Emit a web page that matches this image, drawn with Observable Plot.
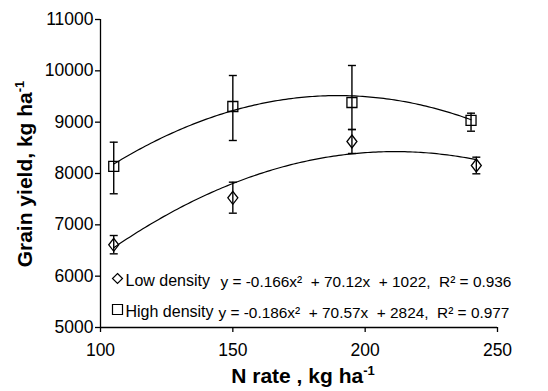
<!DOCTYPE html>
<html>
<head>
<meta charset="utf-8">
<script src="https://cdn.jsdelivr.net/npm/d3@7"></script>
<script src="https://cdn.jsdelivr.net/npm/@observablehq/plot@0.6"></script>
<style>
  html, body { margin: 0; padding: 0; background: #fff; }
  #chart { width: 548px; height: 391px; }
  svg { font-family: "Liberation Sans", Arial, sans-serif; }
</style>
</head>
<body>
<div id="chart"></div>
<script>
// ---- data ----
const nRateLow  = [105, 150, 195, 242];
const yieldLow  = [6611, 7527, 8623, 8156];
const lowErrMin = [6435, 7227, 8390, 7994];
const lowErrMax = [6792, 7831, 8857, 8318];

const nRateHigh  = [105, 150, 195, 240];
const yieldHigh  = [8137, 9305, 9383, 9033];
const highErrMin = [7605, 8643, 8857, 8824];
const highErrMax = [8610, 9909, 10104, 9175];

// trend-line equations as printed on the chart: y = a x^2 + b x + c
const lowCoef  = [-0.166, 70.12, 1022];
const highCoef = [-0.186, 70.57, 2824];
const lowFitRange  = [105, 242];
const highFitRange = [105, 240];

const xTicks = [100, 150, 200, 250];
const yTicks = [5000, 6000, 7000, 8000, 9000, 10000, 11000];

const legendLow  = "Low density";
const legendHigh = "High density";
const eqLow  = "y = -0.166x\u00B2  + 70.12x  + 1022,  R\u00B2 = 0.936";
const eqHigh = "y = -0.186x\u00B2  + 70.57x  + 2824,  R\u00B2 = 0.977";

// ---- tables ----
const low  = nRateLow.map((x, i) => ({x, y: yieldLow[i], lo: lowErrMin[i], hi: lowErrMax[i]}));
const high = nRateHigh.map((x, i) => ({x, y: yieldHigh[i], lo: highErrMin[i], hi: highErrMax[i]}));
const fit = (coef, [a, b]) => d3.range(a, b + 0.001, 1).map(x => ({x, y: coef[0]*x*x + coef[1]*x + coef[2]}));
const lowFit  = fit(lowCoef, lowFitRange);
const highFit = fit(highCoef, highFitRange);

// ---- custom symbols ----
const diamond = {draw(ctx) { ctx.moveTo(0,-6.5); ctx.lineTo(5,0); ctx.lineTo(0,6.5); ctx.lineTo(-5,0); ctx.closePath(); }};
const square  = {draw(ctx) { ctx.moveTo(-5,-5); ctx.lineTo(5,-5); ctx.lineTo(5,5); ctx.lineTo(-5,5); ctx.closePath(); }};
const diamondSmall = {draw(ctx) { ctx.moveTo(0,-5); ctx.lineTo(5,0); ctx.lineTo(0,5); ctx.lineTo(-5,0); ctx.closePath(); }};
const squareSmall  = {draw(ctx) { ctx.moveTo(-5,-5); ctx.lineTo(5,-5); ctx.lineTo(5,5); ctx.lineTo(-5,5); ctx.closePath(); }};
const cap     = {draw(ctx) { ctx.moveTo(-4,0); ctx.lineTo(4,0); }};

const errMarks = (data) => [
  Plot.ruleX(data, {x: "x", y1: "lo", y2: "hi", stroke: "black", strokeWidth: 1.4}),
  Plot.dot(data, {x: "x", y: "lo", symbol: cap, stroke: "black", strokeWidth: 1.4}),
  Plot.dot(data, {x: "x", y: "hi", symbol: cap, stroke: "black", strokeWidth: 1.4})
];

const legendText = (t, dx, dy, size) =>
  Plot.text([t], {text: d => d, frameAnchor: "top-left", dx, dy, textAnchor: "start", lineAnchor: "middle", fontSize: size, fill: "black"});

const plot = Plot.plot({
  width: 548,
  height: 391,
  marginLeft: 100,
  marginRight: 51,
  marginTop: 19,
  marginBottom: 64,
  style: {fontFamily: "'Liberation Sans', Arial, sans-serif", background: "white", color: "black"},
  x: {domain: [100, 250], ticks: xTicks, tickSize: 5, tickPadding: 11, label: null, tickFormat: d => String(d)},
  y: {domain: [5000, 11000], ticks: yTicks, tickSize: 5, tickPadding: 2, label: null, tickFormat: d => String(d)},
  marks: [
    Plot.ruleX([100], {stroke: "black", strokeWidth: 1.3}),
    Plot.ruleY([5000], {stroke: "black", strokeWidth: 1.3}),
    Plot.line(highFit, {x: "x", y: "y", stroke: "black", strokeWidth: 1.2, curve: "linear"}),
    Plot.line(lowFit,  {x: "x", y: "y", stroke: "black", strokeWidth: 1.2, curve: "linear"}),
    ...errMarks(high),
    ...errMarks(low),
    Plot.dot(high, {x: "x", y: "y", symbol: square,  stroke: "black", fill: "none", strokeWidth: 1.3}),
    Plot.dot(low,  {x: "x", y: "y", symbol: diamond, stroke: "black", fill: "none", strokeWidth: 1.3}),
    // legend
    Plot.dot([legendLow],  {frameAnchor: "top-left", dx: 17, dy: 259, symbol: diamondSmall, stroke: "black", fill: "none", strokeWidth: 1.2}),
    Plot.dot([legendHigh], {frameAnchor: "top-left", dx: 17, dy: 290, symbol: squareSmall,  stroke: "black", fill: "none", strokeWidth: 1.2}),
    legendText(legendLow,  25, 261, 16),
    legendText(legendHigh, 25, 292, 16),
    legendText(eqLow,  120, 263, 15.4),
    legendText(eqHigh, 118, 294, 15.4)
  ]
});

const svg = d3.select(plot);
svg.selectAll("[aria-label='x-axis tick label'] text, [aria-label='y-axis tick label'] text")
   .style("font-size", "17.5px").attr("fill", "black");
svg.selectAll("[aria-label='x-axis tick'], [aria-label='y-axis tick']").attr("stroke", "black").attr("stroke-width", 1.3);

// axis titles with superscripts
const xt = svg.append("text")
  .attr("x", 303).attr("y", 383)
  .attr("text-anchor", "middle")
  .style("font-size", "21px").style("font-weight", "bold").attr("fill", "black");
xt.append("tspan").text("N rate , kg ha");
xt.append("tspan").attr("dy", -8).style("font-size", "13px").text("-1");

const yt = svg.append("text")
  .attr("transform", "translate(32,174) rotate(-90)")
  .attr("text-anchor", "middle")
  .style("font-size", "21px").style("font-weight", "bold").attr("fill", "black");
yt.append("tspan").text("Grain yield, kg ha");
yt.append("tspan").attr("dy", -8).style("font-size", "13px").text("-1");

document.getElementById("chart").appendChild(plot);
</script>
</body>
</html>
